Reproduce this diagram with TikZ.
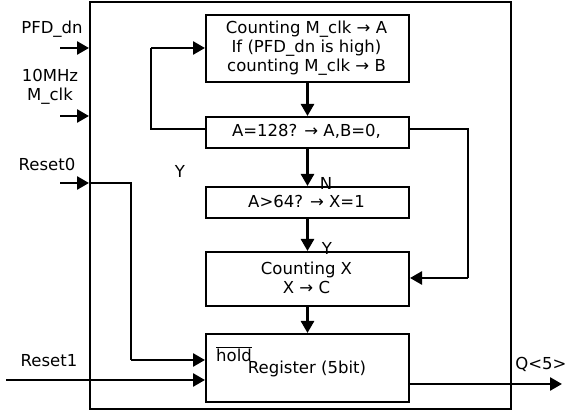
\documentclass[tikz,border=0pt]{standalone}
\usepackage{fontspec}
\setmainfont{DejaVu Sans}
\usetikzlibrary{arrows.meta}
\begin{document}
\begin{tikzpicture}[x=1pt,y=-1pt,
  blk/.style={draw,line width=2pt,inner sep=0pt},
  conn/.style={line width=2.6pt,-{Triangle[length=12pt,width=13pt]}},
  wire/.style={line width=2pt},
  lbl/.style={font=\fontsize{16.5}{19}\selectfont,inner sep=0pt}]
\useasboundingbox (0,0) rectangle (566,411);
% outer
\node[blk,minimum width=421pt,minimum height=407pt,anchor=north west] (outer) at (89,1.5) {};
% blocks
\node[blk,minimum width=203pt,minimum height=67pt,anchor=north west] (b1) at (205,14) {};
\node[lbl,align=center] (t1) at (306.5,48) {Counting M\_clk → A\\If (PFD\_dn is high)\\counting M\_clk → B};
\node[blk,minimum width=203pt,minimum height=31pt,anchor=north west] (b2) at (205,116) {};
\node[lbl] (t2) at (306.5,131) {A=128? → A,B=0,};
\node[blk,minimum width=203pt,minimum height=31pt,anchor=north west] (b3) at (205,186) {};
\node[lbl] (t3) at (306.5,201) {A>64? → X=1};
\node[blk,minimum width=203pt,minimum height=54pt,anchor=north west] (b4) at (205,251) {};
\node[lbl,align=center] (t4) at (306.5,278) {Counting X\\X → C};
\node[blk,minimum width=203pt,minimum height=68pt,anchor=north west] (b5) at (205,333) {};
\node[lbl] (hold) at (234,354) {$\overline{\hbox{hold}}$};
\node[lbl] (reg) at (307,369) {Register (5bit)};
% labels
\node[lbl] (lpfd) at (52,29) {PFD\_dn};
\node[lbl,align=center] (lclk) at (50,87) {10MHz\\M\_clk};
\node[lbl] (lr0) at (47,164) {Reset0};
\node[lbl] (lr1) at (49,361) {Reset1};
\node[lbl] (ly1) at (180,171) {Y};
\node[lbl] (ln) at (326,183) {N};
\node[lbl] (ly2) at (327,248) {Y};
\node[lbl] (lq) at (541,364) {Q<5>};
% coordinates
\coordinate (pin) at (60,48);
\coordinate (pout) at (89,48);
\coordinate (cin) at (60,116);
\coordinate (cout) at (89,116);
\coordinate (r0in) at (60,183);
\coordinate (r0out) at (89,183);
\coordinate (r0c) at (131,360);
\coordinate (r1in) at (6,380);
\coordinate (qout) at (562,384);
% input arrows
\draw[conn] (pin) -- (pout);
\draw[conn] (cin) -- (cout);
\draw[conn] (r0in) -- (r0out);
\draw[wire] (r0out) -- (131,183) -- (r0c);
\draw[conn] (r0c) -- (b5.west |- r0c);
\draw[conn] (r1in) -- (b5.west |- r1in);
% flow arrows
\draw[conn] (b1.south) -- (b2.north);
\draw[conn] (b2.south) -- (b3.north);
\draw[conn] (b3.south) -- (b4.north);
\draw[conn] (b4.south) -- (b5.north);
% feedback left
\draw[wire] (b2.west |- 0,129) -- (151,129) -- (151,48);
\draw[conn] (151,48) -- (b1.west |- 0,48);
% right loop
\draw[wire] (b2.east |- 0,129) -- (468,129) -- (468,278);
\draw[conn] (468,278) -- (b4.east |- 0,278);
% output
\draw[conn] (b5.east |- qout) -- (qout);
\end{tikzpicture}
\end{document}
